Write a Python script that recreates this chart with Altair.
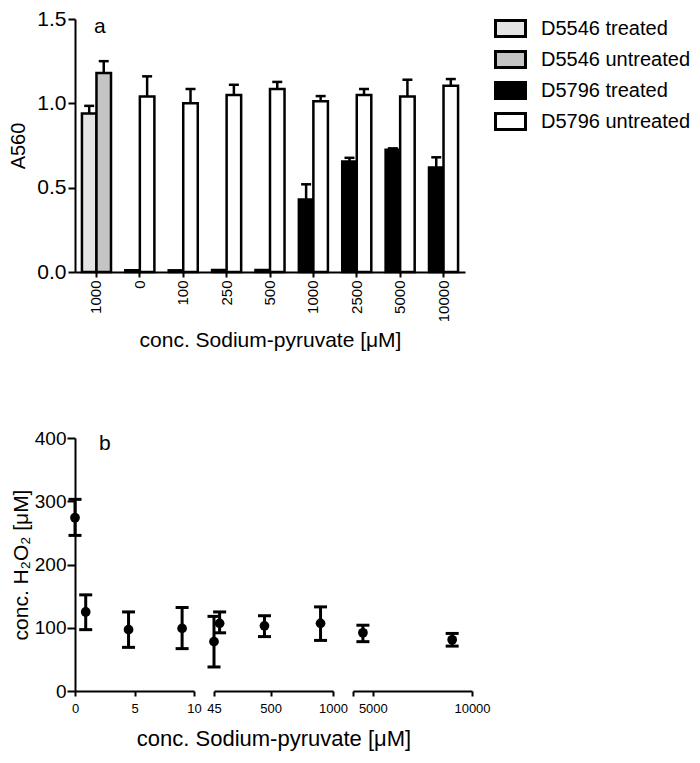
import altair as alt
import pandas as pd

FONT = "Liberation Sans"

# ---------------- panel a data ----------------
groups = ["1000", "0", "100", "250", "500", "1000", "2500", "5000", "10000"]
strain = ["D5546", "D5796", "D5796", "D5796", "D5796", "D5796", "D5796", "D5796", "D5796"]
treated_mean = [0.94, 0.01, 0.01, 0.012, 0.012, 0.43, 0.655, 0.725, 0.62]
treated_err = [0.045, 0.0, 0.0, 0.0, 0.0, 0.09, 0.022, 0.008, 0.06]
untreated_mean = [1.18, 1.04, 1.00, 1.05, 1.085, 1.013, 1.05, 1.04, 1.104]
untreated_err = [0.07, 0.12, 0.085, 0.06, 0.042, 0.03, 0.035, 0.10, 0.04]

series_order = ["D5546 treated", "D5546 untreated", "D5796 treated", "D5796 untreated"]
series_colors = ["#e4e4e4", "#c4c4c4", "#000000", "#ffffff"]

# ---------------- panel b data ----------------
conc_b = [0, 0.9, 4.5, 9, 45, 90, 450, 900, 4500, 9000]
h2o2_mean = [274, 125, 97, 99, 78, 107, 103, 107, 92, 81]
h2o2_lo = [246, 97, 69, 67, 38, 92, 86, 80, 78, 71]
h2o2_hi = [303, 152, 125, 132, 118, 125, 119, 133, 104, 91]

segments = [(0, 10), (45, 1000), (4000, 10000)]
seg_ticks = [[0, 5, 10], [45, 500, 1000], [4000, 5000, 10000]]

# ---------------- build tables ----------------
rows = []
for i, g in enumerate(groups):
    rows.append(dict(grp=i, pos="treated", series=f"{strain[i]} treated",
                     mean=treated_mean[i], err=treated_err[i],
                     top=treated_mean[i] + treated_err[i]))
    rows.append(dict(grp=i, pos="untreated", series=f"{strain[i]} untreated",
                     mean=untreated_mean[i], err=untreated_err[i],
                     top=untreated_mean[i] + untreated_err[i]))
df_a = pd.DataFrame(rows)
df_err = df_a[df_a["err"] > 0]

df_b = pd.DataFrame({"conc": conc_b, "mean": h2o2_mean, "lo": h2o2_lo, "hi": h2o2_hi})

label_expr = "[" + ",".join(f"'{g}'" for g in groups) + "][datum.value]"

# ---------------- panel a ----------------
x_a = alt.X("grp:O",
            scale=alt.Scale(paddingInner=0.33, paddingOuter=0.16),
            axis=alt.Axis(title="conc. Sodium-pyruvate [μM]", labelExpr=label_expr,
                          labelAngle=270, labelFontSize=15, labelPadding=3,
                          tickSize=5, titleFontSize=21, titlePadding=8,
                          titleFontWeight="normal"))
xoff = alt.XOffset("pos:N", scale=alt.Scale(domain=["treated", "untreated"],
                                            paddingInner=0, paddingOuter=0))
y_scale_a = alt.Scale(domain=[0, 1.5], nice=False)
y_axis_a = alt.Axis(title="A560", values=[0, 0.5, 1.0, 1.5], format=".1f",
                    labelFontSize=21, tickSize=7, labelPadding=2,
                    titleFontSize=20, titlePadding=8, titleFontWeight="normal")

bars = alt.Chart(df_a).mark_bar(stroke="black", strokeWidth=2.5).encode(
    x=x_a, xOffset=xoff,
    y=alt.Y("mean:Q", scale=y_scale_a, axis=y_axis_a),
    color=alt.Color("series:N",
                    scale=alt.Scale(domain=series_order, range=series_colors),
                    legend=alt.Legend(title=None, orient="none", legendX=419, legendY=-7,
                                      symbolType="M-1,-0.53H1V0.53H-1Z", symbolSize=900,
                                      symbolStrokeColor="black", symbolStrokeWidth=3,
                                      symbolOpacity=1, labelFontSize=20, labelOffset=14,
                                      rowPadding=0, padding=0, labelColor="black")),
)
rules_a = alt.Chart(df_err).mark_rule(color="black", strokeWidth=2.5).encode(
    x=x_a, xOffset=xoff,
    y=alt.Y("mean:Q", scale=y_scale_a, axis=y_axis_a), y2="top:Q")
caps_a = alt.Chart(df_err).mark_tick(color="black", size=10, thickness=2.5,
                                      orient="horizontal", opacity=1).encode(
    x=x_a, xOffset=xoff,
    y=alt.Y("top:Q", scale=y_scale_a, axis=y_axis_a))
lab_a = alt.Chart(pd.DataFrame({"t": ["a"]})).mark_text(
    fontSize=21, align="left", baseline="alphabetic", color="black").encode(
    text="t:N", x=alt.value(19), y=alt.value(14))

panel_a = alt.layer(rules_a, caps_a, bars, lab_a).properties(width=390, height=253)

# ---------------- panel b ----------------
y_scale_b = alt.Scale(domain=[0, 400], nice=False)
y_axis_b = alt.Axis(title="conc. H₂O₂ [μM]", values=[0, 100, 200, 300, 400],
                    labelFontSize=19, tickSize=8, labelPadding=1,
                    titleFontSize=21, titlePadding=3, titleFontWeight="normal")


def segment(k):
    lo, hi = segments[k]
    ticks = seg_ticks[k]
    if k == 2:
        lbl = f"datum.value == {lo} ? '' : datum.label"
    else:
        lbl = "datum.label"
    x_axis = alt.Axis(values=ticks, labelExpr=lbl, format="d", labelFontSize=13,
                      labelPadding=6, tickSize=5, labelFlush=False,
                      title="conc. Sodium-pyruvate [μM]" if k == 1 else None,
                      titleFontSize=22, titlePadding=13, titleFontWeight="normal")
    x = alt.X("conc:Q", scale=alt.Scale(domain=[lo, hi], nice=False, zero=False), axis=x_axis)
    yax = y_axis_b if k == 0 else None
    base = alt.Chart(df_b).transform_filter(f"datum.conc >= {lo} && datum.conc <= {hi}")
    rule = base.mark_rule(color="black", strokeWidth=3).encode(
        x=x, y=alt.Y("lo:Q", scale=y_scale_b, axis=yax), y2="hi:Q")
    cap_lo = base.mark_tick(color="black", size=13, thickness=3, orient="horizontal",
                            opacity=1).encode(x=x, y=alt.Y("lo:Q", scale=y_scale_b, axis=yax))
    cap_hi = base.mark_tick(color="black", size=13, thickness=3, orient="horizontal",
                            opacity=1).encode(x=x, y=alt.Y("hi:Q", scale=y_scale_b, axis=yax))
    pts = base.mark_circle(color="black", size=95, opacity=1).encode(
        x=x, y=alt.Y("mean:Q", scale=y_scale_b, axis=yax))
    layers = [rule, cap_lo, cap_hi, pts]
    if k == 0:
        layers.append(alt.Chart(pd.DataFrame({"t": ["b"]})).mark_text(
            fontSize=21, align="left", baseline="alphabetic", color="black").encode(
            text="t:N", x=alt.value(24), y=alt.value(12)))
    return alt.layer(*layers).properties(width=119, height=253)


panel_b = alt.hconcat(segment(0), segment(1), segment(2), spacing=20, bounds="flush")

chart = alt.vconcat(panel_a, panel_b, spacing=78).properties(
    padding={"left": 0, "top": 0, "right": 0, "bottom": 6}
).configure(font=FONT).configure_axis(
    domainColor="black", domainWidth=2, tickColor="black", tickWidth=2,
    labelColor="black", titleColor="black", grid=False, labelFont=FONT, titleFont=FONT
).configure_view(stroke=None).configure_legend(labelFont=FONT)

chart.save("out.html", embed_options={"renderer": "svg", "actions": False})
